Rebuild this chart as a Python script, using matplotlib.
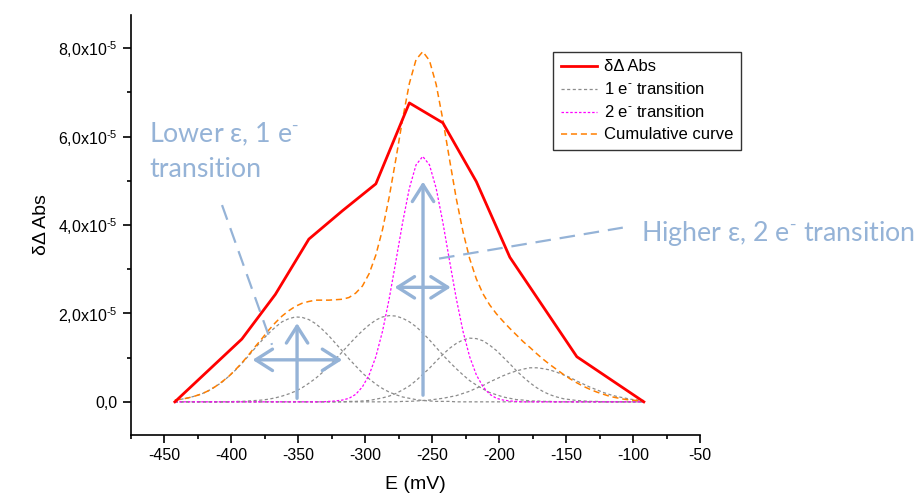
import matplotlib
matplotlib.use("Agg")
import matplotlib.pyplot as plt
from matplotlib.ticker import MultipleLocator, FuncFormatter

# Measured curve (E in mV, signal in units of 1e-5)
E_MEAS = [-442, -392, -367, -342, -317, -292, -267, -242, -217, -192, -142, -92]
ABS_MEAS = [0.0, 1.42, 2.43, 3.68, 4.32, 4.93, 6.76, 6.31, 4.98, 3.27, 1.02, 0.0]

# Fit components, sampled every 5 mV (units of 1e-5)
E_FIT = [
    -442, -437, -432, -427, -422, -417, -412, -407, -402, -397, -392, -387,
    -382, -377, -372, -367, -362, -357, -352, -347, -342, -337, -332, -327,
    -322, -317, -312, -307, -302, -297, -292, -287, -282, -277, -272, -267,
    -262, -257, -252, -247, -242, -237, -232, -227, -222, -217, -212, -207,
    -202, -197, -192, -187, -182, -177, -172, -167, -162, -157, -152, -147,
    -142, -137, -132, -127, -122, -117, -112, -107, -102, -97, -92,
]
ONE_E_A = [
    0.04, 0.06, 0.09, 0.13, 0.18, 0.25, 0.34, 0.44, 0.57, 0.71, 0.87, 1.04,
    1.22, 1.39, 1.55, 1.69, 1.81, 1.88, 1.92, 1.91, 1.86, 1.77, 1.64, 1.49,
    1.32, 1.15, 0.97, 0.81, 0.65, 0.52, 0.4, 0.3, 0.22, 0.16, 0.11, 0.08,
    0.05, 0.03, 0.02, 0.01, 0.01, 0.01, 0, 0, 0, 0, 0, 0,
    0, 0, 0, 0, 0, 0, 0, 0, 0, 0, 0, 0,
    0, 0, 0, 0, 0, 0, 0, 0, 0, 0, 0,
]
ONE_E_B = [
    0, 0, 0, 0, 0, 0, 0, 0, 0, 0.01, 0.01, 0.02,
    0.03, 0.04, 0.06, 0.09, 0.13, 0.18, 0.24, 0.32, 0.42, 0.53, 0.66, 0.81,
    0.97, 1.13, 1.3, 1.46, 1.61, 1.74, 1.85, 1.92, 1.95, 1.94, 1.89, 1.81,
    1.7, 1.56, 1.4, 1.23, 1.06, 0.9, 0.75, 0.61, 0.48, 0.38, 0.29, 0.21,
    0.16, 0.11, 0.08, 0.05, 0.04, 0.02, 0.02, 0.01, 0.01, 0, 0, 0,
    0, 0, 0, 0, 0, 0, 0, 0, 0, 0, 0,
]
ONE_E_C = [
    0, 0, 0, 0, 0, 0, 0, 0, 0, 0, 0, 0,
    0, 0, 0, 0, 0, 0, 0, 0, 0, 0, 0, 0,
    0, 0, 0.01, 0.01, 0.02, 0.03, 0.06, 0.09, 0.13, 0.19, 0.27, 0.36,
    0.48, 0.62, 0.76, 0.92, 1.07, 1.21, 1.32, 1.4, 1.44, 1.43, 1.38, 1.28,
    1.16, 1.01, 0.86, 0.7, 0.56, 0.43, 0.32, 0.23, 0.16, 0.11, 0.07, 0.05,
    0.03, 0.02, 0.01, 0.01, 0, 0, 0, 0, 0, 0, 0,
]
ONE_E_D = [
    0, 0, 0, 0, 0, 0, 0, 0, 0, 0, 0, 0,
    0, 0, 0, 0, 0, 0, 0, 0, 0, 0, 0, 0,
    0, 0, 0, 0, 0, 0, 0, 0, 0, 0, 0.01, 0.01,
    0.02, 0.03, 0.04, 0.06, 0.08, 0.11, 0.14, 0.19, 0.24, 0.31, 0.37, 0.45,
    0.52, 0.59, 0.65, 0.7, 0.74, 0.77, 0.77, 0.75, 0.72, 0.67, 0.61, 0.55,
    0.47, 0.4, 0.33, 0.27, 0.21, 0.16, 0.12, 0.09, 0.06, 0.04, 0.03,
]
TWO_E = [
    0, 0, 0, 0, 0, 0, 0, 0, 0, 0, 0, 0,
    0, 0, 0, 0, 0, 0, 0, 0, 0, 0, 0, 0.01,
    0.02, 0.04, 0.08, 0.17, 0.34, 0.61, 1.02, 1.6, 2.34, 3.19, 4.06, 4.83,
    5.36, 5.55, 5.36, 4.83, 4.06, 3.19, 2.34, 1.6, 1.02, 0.61, 0.34, 0.17,
    0.08, 0.04, 0.02, 0.01, 0, 0, 0, 0, 0, 0, 0, 0,
    0, 0, 0, 0, 0, 0, 0, 0, 0, 0, 0,
]
CUMULATIVE = [
    0.04, 0.06, 0.09, 0.13, 0.18, 0.25, 0.34, 0.45, 0.57, 0.72, 0.88, 1.06,
    1.25, 1.43, 1.62, 1.79, 1.94, 2.06, 2.16, 2.23, 2.27, 2.3, 2.3, 2.3,
    2.31, 2.32, 2.36, 2.46, 2.62, 2.9, 3.32, 3.9, 4.64, 5.5, 6.4, 7.2,
    7.74, 7.92, 7.72, 7.18, 6.38, 5.48, 4.6, 3.85, 3.24, 2.78, 2.44, 2.19,
    1.99, 1.82, 1.66, 1.51, 1.36, 1.23, 1.09, 0.96, 0.84, 0.73, 0.62, 0.52,
    0.43, 0.35, 0.28, 0.22, 0.17, 0.12, 0.09, 0.06, 0.04, 0.03, 0.02,
]

SCALE = 1e-5
ANNOT = "#95B3D7"

plt.rcParams["font.family"] = ["Liberation Sans", "DejaVu Sans"]
plt.rcParams["mathtext.fontset"] = "custom"
plt.rcParams["mathtext.rm"] = "Liberation Sans"
plt.rcParams["mathtext.it"] = "Liberation Sans:italic"
plt.rcParams["axes.unicode_minus"] = False

SUP = "$^{\\text{-}}$"


def scaled(values):
    return [v * SCALE for v in values]


def y_label(value, pos):
    mant = value / SCALE
    if abs(mant) < 1e-9:
        return "0,0"
    return ("%.1f" % mant).replace(".", ",") + "x10$^{\\text{-}5}$"


def main():
    fig = plt.figure(figsize=(9.2, 4.98), dpi=100)
    ax = fig.add_axes([0.142, 0.1265, 0.619, 0.8435])

    # Data
    ax.plot(E_MEAS, scaled(ABS_MEAS), color="#FF0000", lw=2, zorder=5,
            label="δΔ Abs")
    grey = dict(color="#8C8C8C", lw=0.9, ls=(0, (2.5, 2)))
    ax.plot(E_FIT, scaled(ONE_E_A), label="1 e" + SUP + " transition", **grey)
    for comp in (ONE_E_B, ONE_E_C, ONE_E_D):
        ax.plot(E_FIT, scaled(comp), **grey)
    ax.plot(E_FIT, scaled(TWO_E), color="#FF00FF", lw=0.9, ls=(0, (2, 1.5)),
            label="2 e" + SUP + " transition")
    ax.plot(E_FIT, scaled(CUMULATIVE), color="#FF7F00", lw=1.1,
            ls=(0, (4, 2.5)), label="Cumulative curve")

    # Axes
    ax.set_xlim(-475, -50)
    ax.set_ylim(-0.75e-5, 8.75e-5)
    ax.xaxis.set_major_locator(MultipleLocator(50))
    ax.xaxis.set_minor_locator(MultipleLocator(25))
    ax.yaxis.set_major_locator(MultipleLocator(2e-5))
    ax.yaxis.set_minor_locator(MultipleLocator(1e-5))
    ax.yaxis.set_major_formatter(FuncFormatter(y_label))
    for side in ("top", "right"):
        ax.spines[side].set_visible(False)
    for side in ("left", "bottom"):
        ax.spines[side].set_linewidth(1.2)
    ax.tick_params(which="major", direction="out", length=6, width=1.2,
                   labelsize=11.5, pad=3.5)
    ax.tick_params(which="minor", direction="out", length=3, width=1.2)
    ax.set_xlabel("E (mV)", fontsize=14, labelpad=9)
    ax.set_ylabel("δΔ Abs", fontsize=14, labelpad=6)

    leg = ax.legend(loc="upper left", bbox_to_anchor=(0.742, 0.912),
                    borderaxespad=0, fontsize=12, frameon=True,
                    fancybox=False, edgecolor="black", handlelength=2.2,
                    labelspacing=0.42, borderpad=0.45, handletextpad=0.4)
    leg.get_frame().set_linewidth(1.0)

    # Annotations
    text_style = dict(color=ANNOT, fontsize=19.3, family=["Lato", "DejaVu Sans"])
    ax.text(-461, 5.87e-5, "Lower ε, 1 e" + SUP, **text_style)
    ax.text(-461, 5.08e-5, "transition", **text_style)
    ax.text(-94, 3.8e-5, "Higher ε, 2 e" + SUP + " transition", va="center",
            clip_on=False, **text_style)

    dash = dict(color=ANNOT, lw=1.6, ls=(0, (7, 4)))
    ax.plot([-406.8, -369.5], [4.45e-5, 1.29e-5], **dash)
    ax.plot([-244.8, -107.7], [3.24e-5, 3.94e-5], **dash)

    def arrow(x0, y0, x1, y1, style):
        ax.annotate("", xy=(x1, y1), xytext=(x0, y0),
                    arrowprops=dict(arrowstyle=style, color=ANNOT, lw=2.4,
                                    mutation_scale=22, shrinkA=0, shrinkB=0))

    one = "->,head_length=0.55,head_width=0.35"
    two = "<->,head_length=0.55,head_width=0.35"
    arrow(-350.8, 0.08e-5, -350.8, 1.78e-5, one)
    arrow(-384, 0.95e-5, -317.1, 0.95e-5, two)
    arrow(-256.8, 0.15e-5, -256.8, 4.98e-5, one)
    arrow(-278, 2.59e-5, -236.1, 2.59e-5, two)

    fig.savefig("out.png", dpi=100)


if __name__ == "__main__":
    main()
